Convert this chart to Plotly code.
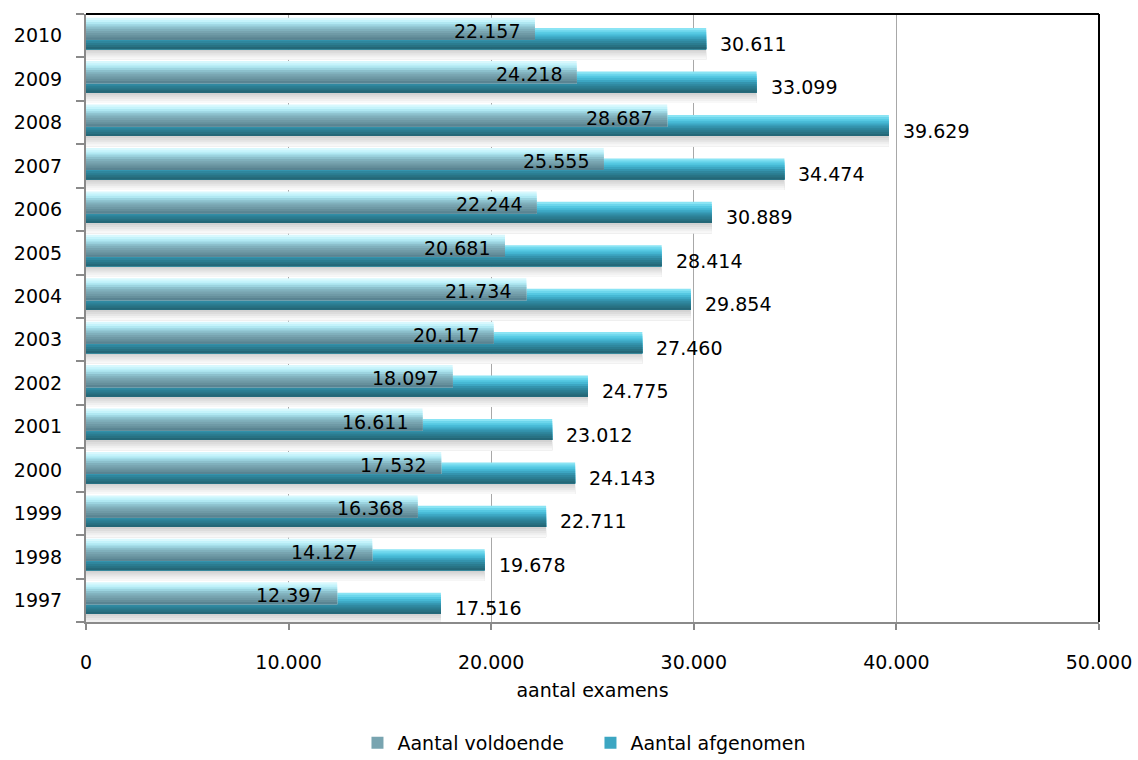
import plotly.graph_objects as go

years = [1997, 1998, 1999, 2000, 2001, 2002, 2003,
         2004, 2005, 2006, 2007, 2008, 2009, 2010]
voldoende = [12397, 14127, 16368, 17532, 16611, 18097, 20117,
             21734, 20681, 22244, 25555, 28687, 24218, 22157]
afgenomen = [17516, 19678, 22711, 24143, 23012, 24775, 27460,
             29854, 28414, 30889, 34474, 39629, 33099, 30611]

name_v = "Aantal voldoende"
name_a = "Aantal afgenomen"
x_title = "aantal examens"

FONT = "DejaVu Sans"

# gradient colours top -> bottom
grad_v = ["#d8f8fd", "#c4f3fb", "#b0e8f2", "#9cd4e0", "#8cc0cc",
          "#80b0bc", "#78a4b0", "#6f9aa6", "#66909c", "#5a8492"]
grad_a = ["#8ae4f4", "#6cd6ec", "#55c8e2", "#46b8d4", "#3ca6c2",
          "#3494ae", "#2f879e", "#2b7c90", "#287283", "#246777"]
grad_s = ["#d2d2d2", "#dcdcdc", "#e6e6e6", "#f0f0f0", "#f8f8f8"]

fig = go.Figure()

def add_band(values, base, width, colors, name, legend_color_idx, rank):
    n = len(colors)
    step = width / n
    for i, c in enumerate(colors):
        w = width - i * step
        fig.add_trace(go.Bar(
            x=values, y=years, orientation="h",
            offset=base, width=w,
            marker=dict(color=c, line=dict(width=0)),
            name=name if name else "shadow", legendgroup=name if name else "shadow",
            showlegend=(i == legend_color_idx) and name is not None,
            legendrank=rank,
            hoverinfo="skip",
        ))

# shadow under the bars
add_band(afgenomen, -0.55, 0.24, grad_s, None, -1, 10)
# back bars (afgenomen)
add_band(afgenomen, -0.311, 0.486, grad_a, name_a, 4, 2)
# front bars (voldoende)
add_band(voldoende, -0.092, 0.507, grad_v, name_v, 6, 1)

fmt = lambda v: f"{v:,}".replace(",", ".")

annotations = []
for yr, v in zip(years, voldoende):
    annotations.append(dict(x=v, y=yr, xref="x", yref="y", text=fmt(v),
                            showarrow=False, xanchor="right", yanchor="middle",
                            xshift=-13, yshift=5,
                            font=dict(family=FONT, size=19, color="black")))
for yr, v in zip(years, afgenomen):
    annotations.append(dict(x=v, y=yr, xref="x", yref="y", text=fmt(v),
                            showarrow=False, xanchor="left", yanchor="middle",
                            xshift=12, yshift=-8,
                            font=dict(family=FONT, size=19, color="black")))

fig.update_layout(
    width=1138, height=760,
    margin=dict(l=86, r=39, t=14, b=138, autoexpand=False),
    plot_bgcolor="white", paper_bgcolor="white",
    barmode="overlay",
    separators=",.",
    font=dict(family=FONT, size=19, color="black"),
    showlegend=True,
    legend=dict(orientation="h", x=0.498, xanchor="center", y=-0.199, yanchor="middle",
                font=dict(family=FONT, size=19), traceorder="normal",
                itemwidth=30, entrywidth=188),
    annotations=annotations,
    shapes=[
        dict(type="line", xref="paper", yref="paper", x0=0, x1=1, y0=1, y1=1,
             line=dict(color="black", width=2)),
        dict(type="line", xref="paper", yref="paper", x0=1, x1=1, y0=0, y1=1,
             line=dict(color="black", width=2)),
    ],
)

fig.update_xaxes(
    range=[0, 50000], dtick=10000, tickformat=",d", automargin=False,
    showgrid=True, gridcolor="#a8a8a8", gridwidth=1,
    zeroline=False, showline=True, linecolor="#8a8a8a", linewidth=2,
    ticks="outside", ticklen=6, tickcolor="#8a8a8a", tickwidth=2,
    ticklabelstandoff=16,
    tickfont=dict(family=FONT, size=19),
    title=dict(text=x_title, font=dict(family=FONT, size=19), standoff=12),
)
fig.update_yaxes(
    range=[1996.5, 2010.5], tickvals=years, ticktext=[str(y) for y in years],
    automargin=False,
    showgrid=False, zeroline=False, showline=True, linecolor="#8a8a8a", linewidth=2,
    ticks="outside", ticklen=8, tickcolor="rgba(0,0,0,0)", tickwidth=2,
    ticklabelstandoff=10,
    minor=dict(tick0=1996.5, dtick=1, ticks="outside", ticklen=8,
               tickcolor="#8a8a8a", tickwidth=2, showgrid=False),
    tickfont=dict(family=FONT, size=19),
)

fig.write_html("out.html",
               config={"displayModeBar": False},
               post_script="document.body.style.margin='0';document.body.style.overflow='hidden';")
